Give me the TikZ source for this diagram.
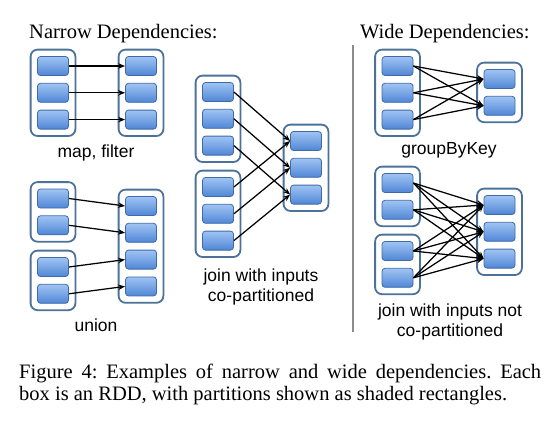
\documentclass[tikz,border=0pt]{standalone}
\usepackage{fontspec}
\setmainfont{Liberation Serif}
\setsansfont{Liberation Sans}
\usetikzlibrary{arrows.meta, positioning, fit, backgrounds}

\definecolor{rddborder}{RGB}{76,114,154}
\definecolor{partborder}{RGB}{62,106,168}
\definecolor{parttop}{RGB}{160,196,243}
\definecolor{partbottom}{RGB}{80,134,214}
\definecolor{divider}{RGB}{140,140,140}

\begin{document}
\frenchspacing
\begin{tikzpicture}[
    x=1pt, y=-1pt,
    part/.style={
        rectangle, draw=partborder, line width=0.8pt,
        rounded corners=3pt, top color=parttop, bottom color=partbottom,
        minimum width=31pt, minimum height=19pt, inner sep=0pt
    },
    rdd/.style={
        rectangle, draw=rddborder, line width=1.8pt, fill=white,
        rounded corners=7pt, inner sep=6.5pt
    },
    arrow/.style={
        -{Stealth[length=7pt, width=5.5pt]}, line width=1.25pt, draw=black
    },
    heading/.style={
        font=\fontsize{20.5}{22}\selectfont, inner sep=0pt
    },
    oplabel/.style={
        font=\sffamily\fontsize{17.5}{20.5}\selectfont, align=center, inner sep=0pt
    }
]
    \useasboundingbox (0,0) rectangle (552,426);

    % =========================================================================
    % HEADINGS AND DIVIDER
    % =========================================================================
    \node [heading, anchor=base west] (narrow_title) at (29,38) {Narrow Dependencies:};
    \node [heading, anchor=base west] (wide_title) at (360,38) {Wide Dependencies:};
    \coordinate (div_top) at (353,45);
    \coordinate (div_bot) at (353,332);
    \draw [divider, line width=2pt] (div_top) -- (div_bot);

    % =========================================================================
    % MAP, FILTER
    % =========================================================================
    \node [part] (map_in1) at (53,66) {};
    \node [part, below=7pt of map_in1] (map_in2) {};
    \node [part, below=7pt of map_in2] (map_in3) {};
    \node [part] (map_out1) at (141,66) {};
    \node [part, below=7pt of map_out1] (map_out2) {};
    \node [part, below=7pt of map_out2] (map_out3) {};
    \begin{scope}[on background layer]
        \node [rdd, fit=(map_in1) (map_in3)] (map_in) {};
        \node [rdd, fit=(map_out1) (map_out3)] (map_out) {};
    \end{scope}
    \draw [arrow] (map_in1.east) -- (map_out1.west);
    \draw [arrow] (map_in2.east) -- (map_out2.west);
    \draw [arrow] (map_in3.east) -- (map_out3.west);
    \node [oplabel] (map_label) at (96,153) {map, filter};

    % =========================================================================
    % UNION
    % =========================================================================
    \node [part] (un_top1) at (53,198.5) {};
    \node [part, below=7pt of un_top1] (un_top2) {};
    \node [part] (un_bot1) at (53,267) {};
    \node [part, below=7pt of un_bot1] (un_bot2) {};
    \node [part] (un_out1) at (141,206) {};
    \node [part, below=7pt of un_out1] (un_out2) {};
    \node [part, below=7pt of un_out2] (un_out3) {};
    \node [part, below=7pt of un_out3] (un_out4) {};
    \begin{scope}[on background layer]
        \node [rdd, fit=(un_top1) (un_top2)] (un_top) {};
        \node [rdd, fit=(un_bot1) (un_bot2)] (un_bot) {};
        \node [rdd, fit=(un_out1) (un_out4)] (un_out) {};
    \end{scope}
    \draw [arrow] (un_top1.east) -- (un_out1.west);
    \draw [arrow] (un_top2.east) -- (un_out2.west);
    \draw [arrow] (un_bot1.east) -- (un_out3.west);
    \draw [arrow] (un_bot2.east) -- (un_out4.west);
    \node [oplabel] (un_label) at (96,325) {union};

    % =========================================================================
    % JOIN WITH INPUTS CO-PARTITIONED
    % =========================================================================
    \node [part] (jc_top1) at (218,92) {};
    \node [part, below=7pt of jc_top1] (jc_top2) {};
    \node [part, below=7pt of jc_top2] (jc_top3) {};
    \node [part] (jc_bot1) at (218,187) {};
    \node [part, below=7pt of jc_bot1] (jc_bot2) {};
    \node [part, below=7pt of jc_bot2] (jc_bot3) {};
    \node [part] (jc_out1) at (306,141) {};
    \node [part, below=7pt of jc_out1] (jc_out2) {};
    \node [part, below=7pt of jc_out2] (jc_out3) {};
    \begin{scope}[on background layer]
        \node [rdd, fit=(jc_top1) (jc_top3)] (jc_top) {};
        \node [rdd, fit=(jc_bot1) (jc_bot3)] (jc_bot) {};
        \node [rdd, fit=(jc_out1) (jc_out3)] (jc_out) {};
    \end{scope}
    \draw [arrow] (jc_top1.east) -- (jc_out1.west);
    \draw [arrow] (jc_top2.east) -- (jc_out2.west);
    \draw [arrow] (jc_top3.east) -- (jc_out3.west);
    \draw [arrow] (jc_bot1.east) -- (jc_out1.west);
    \draw [arrow] (jc_bot2.east) -- (jc_out2.west);
    \draw [arrow] (jc_bot3.east) -- (jc_out3.west);
    \node [oplabel] (jc_label) at (261,287) {join with inputs\\co-partitioned};

    % =========================================================================
    % GROUPBYKEY
    % =========================================================================
    \node [part] (gb_in1) at (397.5,66) {};
    \node [part, below=7pt of gb_in1] (gb_in2) {};
    \node [part, below=7pt of gb_in2] (gb_in3) {};
    \node [part] (gb_out1) at (499.5,79) {};
    \node [part, below=7pt of gb_out1] (gb_out2) {};
    \begin{scope}[on background layer]
        \node [rdd, fit=(gb_in1) (gb_in3)] (gb_in) {};
        \node [rdd, fit=(gb_out1) (gb_out2)] (gb_out) {};
    \end{scope}
    % every input partition feeds every output partition
    \foreach \i in {1,2,3}
        \foreach \j in {1,2}
            \draw [arrow] (gb_in\i.east) -- (gb_out\j.west);
    \node [oplabel] (gb_label) at (449,150) {groupByKey};

    % =========================================================================
    % JOIN WITH INPUTS NOT CO-PARTITIONED
    % =========================================================================
    \node [part] (jn_top1) at (397.5,183) {};
    \node [part, below=7pt of jn_top1] (jn_top2) {};
    \node [part] (jn_bot1) at (397.5,251) {};
    \node [part, below=7pt of jn_bot1] (jn_bot2) {};
    \node [part] (jn_out1) at (499.5,205) {};
    \node [part, below=7pt of jn_out1] (jn_out2) {};
    \node [part, below=7pt of jn_out2] (jn_out3) {};
    \begin{scope}[on background layer]
        \node [rdd, fit=(jn_top1) (jn_top2)] (jn_top) {};
        \node [rdd, fit=(jn_bot1) (jn_bot2)] (jn_bot) {};
        \node [rdd, fit=(jn_out1) (jn_out3)] (jn_out) {};
    \end{scope}
    \foreach \s in {top,bot}
        \foreach \i in {1,2}
            \foreach \j in {1,2,3}
                \draw [arrow] (jn_\s\i.east) -- (jn_out\j.west);
    \node [oplabel] (jn_label) at (450,322) {join with inputs not\\co-partitioned};

    % =========================================================================
    % CAPTION
    % =========================================================================
    \node [heading, anchor=base west, text width=522pt, align=justify] (caption) at (19,378)
        {Figure 4: Examples of narrow and wide dependencies. Each\linebreak box is an RDD, with partitions shown as shaded rectangles.};

\end{tikzpicture}
\end{document}
